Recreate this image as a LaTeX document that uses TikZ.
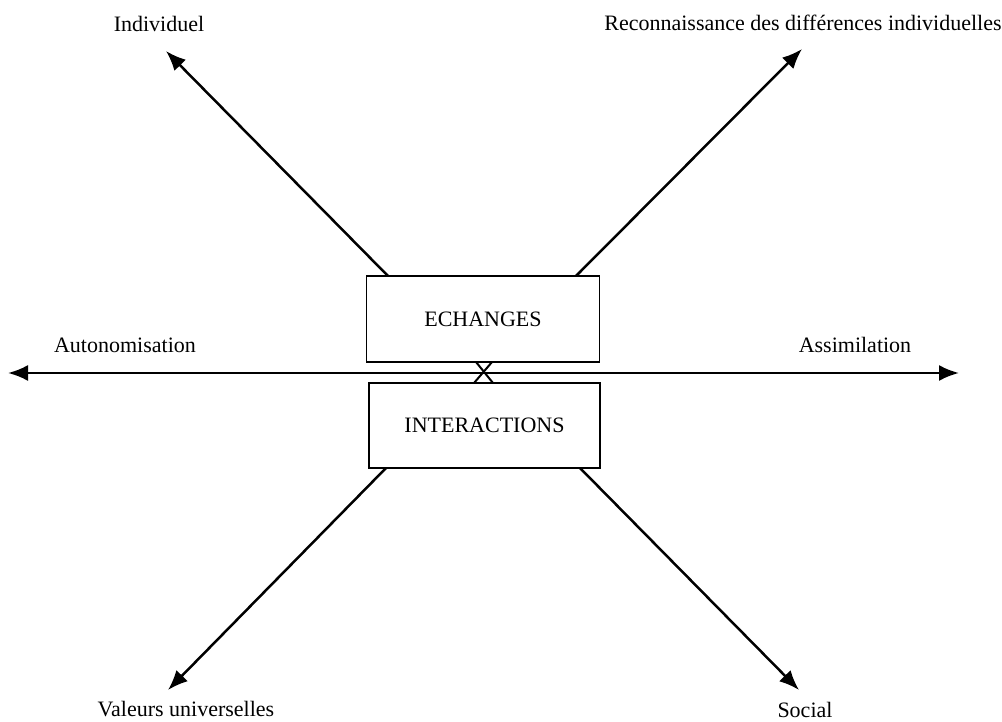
\documentclass[tikz,border=0pt]{standalone}
\usepackage{fontspec}
\setmainfont{Liberation Serif}
\usetikzlibrary{arrows.meta}
\begin{document}
\begin{tikzpicture}[x=1pt,y=-1pt,
  axis/.style={line width=2.5pt,-{Latex[length=20pt,width=16pt]}},
  bothaxis/.style={line width=2.5pt,{Latex[length=20pt,width=16pt]}-{Latex[length=20pt,width=16pt]}},
  boxnode/.style={draw,line width=1.8pt,inner sep=0pt,font=\fontsize{22}{26}\selectfont},
  lbl/.style={inner sep=0pt,font=\fontsize{22}{26}\selectfont}]
\useasboundingbox (0,0) rectangle (1002,722);

% central boxes
\node[boxnode,minimum width=233pt,minimum height=86pt] (ech) at (483,319) {ECHANGES};
\node[boxnode,minimum width=231pt,minimum height=85pt] (inter) at (484.5,425.5) {INTERACTIONS};

% start points of the diagonals on the box edges
\coordinate (ul) at (388,276);
\coordinate (ur) at (576,276);
\coordinate (ll) at (386,468);
\coordinate (lr) at (580,468);

% arrow tips
\coordinate (tul) at (166,51);
\coordinate (tur) at (802,49);
\coordinate (tll) at (168,690);
\coordinate (tlr) at (799,690);
\coordinate (tl) at (8,373);
\coordinate (tr) at (959,373);

% small cross between the boxes
\coordinate (xa) at (476,362);
\coordinate (xb) at (493,383);
\coordinate (xc) at (492,362);
\coordinate (xd) at (474,383);

\draw[axis] (ul) -- (tul);
\draw[axis] (ur) -- (tur);
\draw[axis] (ll) -- (tll);
\draw[axis] (lr) -- (tlr);
\draw[bothaxis] (tl) -- (tr);
\draw[line width=2pt] (xa) -- (xb);
\draw[line width=2pt] (xc) -- (xd);

% pole labels
\node[lbl] (individuel) at (159,24) {Individuel};
\node[lbl] (reconn) at (803,23) {Reconnaissance des différences individuelles};
\node[lbl] (auto) at (125,345) {Autonomisation};
\node[lbl] (assim) at (855,345) {Assimilation};
\node[lbl] (valeurs) at (186,709) {Valeurs universelles};
\node[lbl] (social) at (805,710) {Social};
\end{tikzpicture}
\end{document}
